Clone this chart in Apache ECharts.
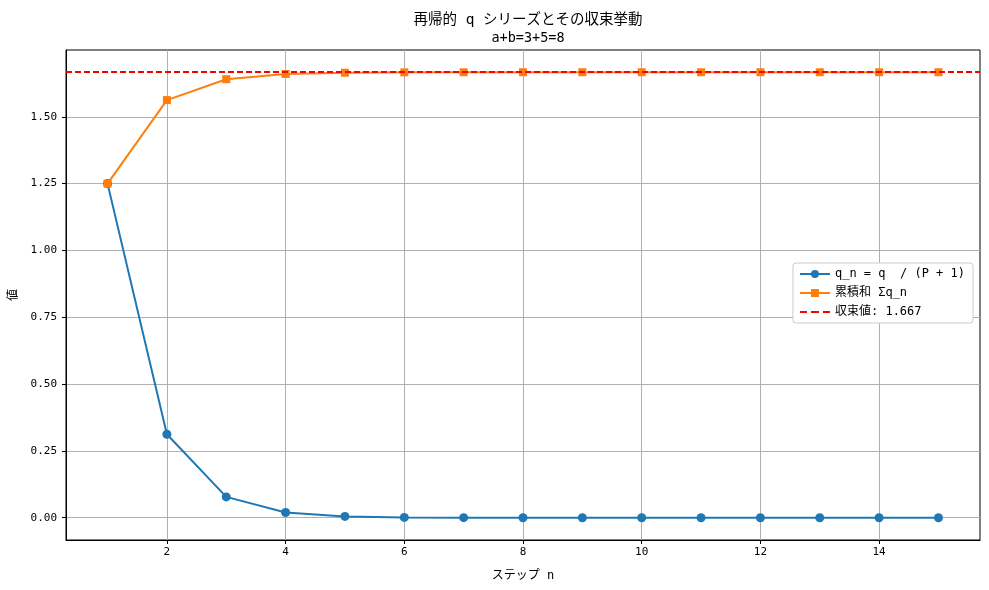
<!DOCTYPE html>
<html><head><meta charset="utf-8">
<script src="https://cdn.jsdelivr.net/npm/echarts@6/dist/echarts.min.js"></script>
<style>html,body{margin:0;padding:0;background:#fff}#c{width:989px;height:590px}</style>
</head><body><div id="c"></div>
<script>
const steps = [1,2,3,4,5,6,7,8,9,10,11,12,13,14,15];
const qValues = [1.25, 0.3125, 0.078, 0.0195, 0.0049, 0.0012, 0.0003, 0.0001, 0.00002, 0.000005, 0.000001, 0, 0, 0, 0];
const cumValues = [1.25, 1.5625, 1.6406, 1.6602, 1.6650, 1.6663, 1.6666, 1.6667, 1.6667, 1.6667, 1.6667, 1.6667, 1.6667, 1.6667, 1.6667];
const limitValue = 1.6667;
const xTicks = [2, 4, 6, 8, 10, 12, 14];
const yTicks = [0, 0.25, 0.5, 0.75, 1.0, 1.25, 1.5];
const titleText = '再帰的 q シリーズとその収束挙動';
const subTitleText = 'a+b=3+5=8';
const legendNames = ['q_n = q  / (P + 1)', '累積和 Σq_n', '収束値: 1.667'];

const FONT = '"DejaVu Sans Mono", "Noto Sans CJK JP", sans-serif';
const dashIcon = 'path://M0,0h0.01v0.01h-0.01zM0,9.99h0.01v0.01h-0.01zM0,4h7v2h-7zM11,4h8v2h-8zM23,4h7v2h-7z';
const chart = echarts.init(document.getElementById('c'));
chart.setOption({
  animation: false,
  backgroundColor: '#fff',
  textStyle: {fontFamily: FONT},
  title: {
    text: titleText, subtext: subTitleText,
    left: 523, top: 8, textAlign: 'center', itemGap: 4,
    textStyle: {fontSize: 14.5, fontWeight: 'normal', color: '#000', fontFamily: FONT},
    subtextStyle: {fontSize: 13.5, color: '#000', fontFamily: FONT}
  },
  grid: {left: 66, right: 9, top: 50, bottom: 50, show: true, borderColor: '#000', borderWidth: 1,
    containLabel: false, outerBoundsMode: 'none'},
  legend: {
    orient: 'vertical', right: 16, top: 263,
    backgroundColor: '#fff', borderColor: '#ccc', borderWidth: 1, borderRadius: 3,
    padding: [5, 8, 5, 6], itemGap: 7, itemWidth: 30, itemHeight: 10,
    textStyle: {fontSize: 12, color: '#000', fontFamily: FONT},
    data: [legendNames[0], legendNames[1], {name: legendNames[2], icon: dashIcon}]
  },
  xAxis: {
    type: 'value', min: 0.3, max: 15.7,
    name: 'ステップ n', nameLocation: 'middle', nameGap: 30,
    nameTextStyle: {fontSize: 12, color: '#000', fontFamily: FONT},
    axisLine: {show: true, onZero: false, lineStyle: {color: '#000'}},
    axisTick: {show: true, inside: false, length: 4, customValues: xTicks, lineStyle: {color: '#000'}},
    axisLabel: {customValues: xTicks, color: '#000', fontSize: 11, margin: 7},
    splitLine: {show: true, lineStyle: {color: '#b0b0b0', width: 1}}
  },
  yAxis: {
    type: 'value', min: -0.0833, max: 1.7499,
    name: '値', nameLocation: 'middle', nameGap: 45, nameRotate: 90,
    nameTextStyle: {fontSize: 12, color: '#000', fontFamily: FONT},
    axisLine: {show: true, onZero: false, lineStyle: {color: '#000'}},
    axisTick: {show: true, inside: false, length: 4, customValues: yTicks, lineStyle: {color: '#000'}},
    axisLabel: {customValues: yTicks, color: '#000', fontSize: 11, margin: 9,
      formatter: v => v.toFixed(2)},
    splitLine: {show: true, lineStyle: {color: '#b0b0b0', width: 1}}
  },
  series: [
    {
      name: legendNames[0], type: 'line',
      data: steps.map((s, i) => [s, qValues[i]]),
      symbol: 'circle', symbolSize: 9,
      itemStyle: {color: '#1f77b4'},
      lineStyle: {color: '#1f77b4', width: 2}, z: 3
    },
    {
      name: legendNames[1], type: 'line',
      data: steps.map((s, i) => [s, cumValues[i]]),
      symbol: 'rect', symbolSize: 8,
      itemStyle: {color: '#ff7f0e'},
      lineStyle: {color: '#ff7f0e', width: 2}, z: 4
    },
    {
      name: legendNames[2], type: 'line', data: [],
      symbol: 'none',
      itemStyle: {color: '#ff0000'},
      lineStyle: {color: '#ff0000', width: 2, type: [6, 3]},
      markLine: {
        silent: true, symbol: ['none', 'none'], label: {show: false},
        lineStyle: {color: '#ff0000', width: 2, type: [6, 3]},
        data: [{yAxis: limitValue}]
      }, z: 5
    }
  ]
});
</script></body></html>
